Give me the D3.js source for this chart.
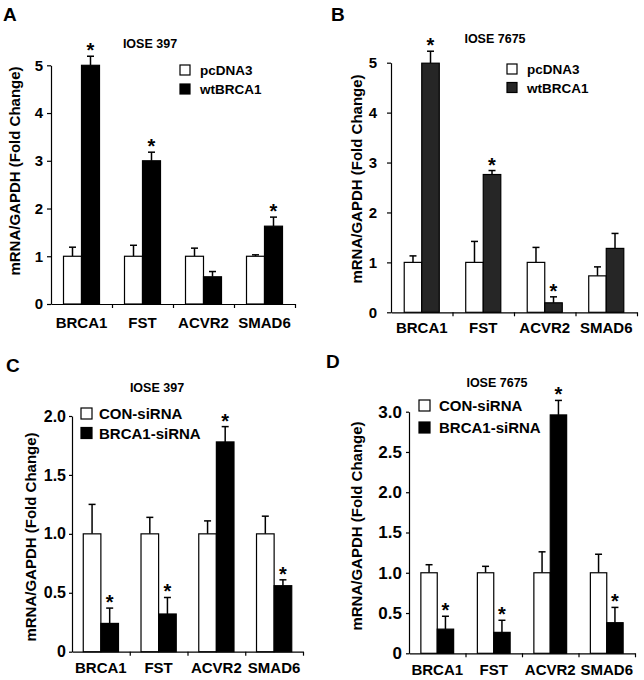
<!DOCTYPE html>
<html><head><meta charset="utf-8">
<script src="https://cdn.jsdelivr.net/npm/d3@7"></script>
<style>
body{margin:0;background:#fff}
svg{display:block}
text{font-family:"Liberation Sans",Arial,sans-serif;font-weight:bold;fill:#000}
</style>
</head><body>
<svg id="c" width="644" height="680"></svg>
<script>
// ---------- data ----------
const categories = ["BRCA1", "FST", "ACVR2", "SMAD6"];

// Panel A: IOSE 397, overexpression
const aCtrl     = [1.00, 1.00, 1.00, 1.00];
const aCtrlErr  = [0.19, 0.23, 0.17, 0.03];
const aTreat    = [5.00, 3.00, 0.57, 1.63];
const aTreatErr = [0.19, 0.18, 0.11, 0.19];
const aSig      = [true, true, false, true];

// Panel B: IOSE 7675, overexpression
const bCtrl     = [1.00, 1.00, 1.00, 0.73];
const bCtrlErr  = [0.13, 0.42, 0.30, 0.18];
const bTreat    = [4.99, 2.76, 0.19, 1.28];
const bTreatErr = [0.24, 0.08, 0.12, 0.30];
const bSig      = [true, true, true, false];

// Panel C: IOSE 397, siRNA
const cCtrl     = [1.00, 1.00, 1.00, 1.00];
const cCtrlErr  = [0.25, 0.14, 0.11, 0.15];
const cTreat    = [0.24, 0.32, 1.78, 0.56];
const cTreatErr = [0.13, 0.14, 0.13, 0.05];
const cSig      = [true, true, true, true];

// Panel D: IOSE 7675, siRNA
const dCtrl     = [1.00, 1.00, 1.00, 1.00];
const dCtrlErr  = [0.10, 0.08, 0.26, 0.23];
const dTreat    = [0.30, 0.26, 2.96, 0.38];
const dTreatErr = [0.16, 0.15, 0.18, 0.19];
const dSig      = [true, true, true, true];

const abTicks = [0, 1, 2, 3, 4, 5];
const cTicks  = [0, 0.5, 1.0, 1.5, 2.0];
const dTicks  = [0, 0.5, 1.0, 1.5, 2.0, 2.5, 3.0];

const overLegend = ["pcDNA3", "wtBRCA1"];
const siLegend   = ["CON-siRNA", "BRCA1-siRNA"];
const yTitle = "mRNA/GAPDH (Fold Change)";

// ---------- drawing ----------
const svg = d3.select("#c");
const fmtInt = d3.format("d");
const fmtDec = d => d === 0 ? "0" : d.toFixed(1);

function panel(cfg) {
  const g = svg.append("g");
  const y = d3.scaleLinear().domain([0, cfg.ymax]).range([cfg.yBase, cfg.yTop]);
  const x = d3.scaleBand().domain(categories).range([cfg.x0, cfg.x1])
    .paddingInner(cfg.pad).paddingOuter(cfg.pad / 2);
  const xs = d3.scaleBand().domain(["ctrl", "treat"]).range([0, x.bandwidth()]);
  const idx = d3.scaleLinear().domain([0, 4]).range([cfg.x0, cfg.x1]);

  // panel letter & title
  g.append("text").attr("x", cfg.letterX).attr("y", cfg.letterY)
    .style("font-size", "19px").text(cfg.letter);
  g.append("text").attr("x", cfg.titleX).attr("y", cfg.titleY)
    .attr("text-anchor", "middle").style("font-size", cfg.titleFont + "px").text(cfg.title);

  // y axis
  const ya = g.append("g").attr("transform", `translate(${cfg.x0},0)`)
    .call(d3.axisLeft(y).tickValues(cfg.ticks).tickFormat(cfg.fmt)
      .tickSize(cfg.tickLen).tickSizeOuter(0).tickPadding(cfg.tickPad));
  ya.selectAll("path,line").attr("stroke", "#000").attr("stroke-width", 1.2);
  ya.selectAll("text").style("font-size", cfg.tickFont + "px")
    .style("font-family", '"Liberation Sans",Arial,sans-serif').style("font-weight", "bold")
    .attr("fill", "#000");

  // x axis (boundary ticks)
  const xa = g.append("g").attr("transform", `translate(0,${cfg.yBase})`)
    .call(d3.axisBottom(idx).tickValues([1, 2, 3, 4]).tickFormat("")
      .tickSize(4).tickSizeOuter(0));
  xa.selectAll("path,line").attr("stroke", "#000").attr("stroke-width", 1.2);

  // x labels
  g.selectAll(".xl").data(categories).join("text")
    .attr("x", d => x(d) + x.bandwidth() / 2).attr("y", cfg.xLabelY)
    .attr("text-anchor", "middle").style("font-size", "15px").text(d => d);

  // y title
  g.append("text").attr("transform", `translate(${cfg.yTitleX},${cfg.yTitleY}) rotate(-90)`)
    .attr("text-anchor", "middle").style("font-size", "15px").text(yTitle);

  const rows = categories.map((c, i) => ({
    c, ctrl: cfg.ctrl[i], ctrlErr: cfg.ctrlErr[i],
    treat: cfg.treat[i], treatErr: cfg.treatErr[i], sig: cfg.sig[i]
  }));

  const series = [
    {key: "ctrl", fill: "#fff", val: d => d.ctrl, err: d => d.ctrlErr},
    {key: "treat", fill: cfg.treatColor, val: d => d.treat, err: d => d.treatErr}
  ];
  const capW = 7;
  series.forEach(s => {
    // error bars (drawn first; upper only)
    rows.forEach(d => {
      const cx = x(d.c) + xs(s.key) + xs.bandwidth() / 2;
      const top = y(s.val(d) + s.err(d));
      g.append("line").attr("x1", cx).attr("x2", cx)
        .attr("y1", y(s.val(d))).attr("y2", top)
        .attr("stroke", "#000").attr("stroke-width", 1.5);
      g.append("line").attr("x1", cx - capW / 2).attr("x2", cx + capW / 2)
        .attr("y1", top).attr("y2", top)
        .attr("stroke", "#000").attr("stroke-width", 1.5);
    });
    g.selectAll(".bar-" + s.key).data(rows).join("rect")
      .attr("x", d => x(d.c) + xs(s.key))
      .attr("y", d => y(s.val(d)))
      .attr("width", xs.bandwidth())
      .attr("height", d => cfg.yBase - y(s.val(d)))
      .attr("fill", s.fill).attr("stroke", "#000").attr("stroke-width", 1.2);
  });

  // significance asterisks
  g.selectAll(".star").data(rows.filter(d => d.sig)).join("text")
    .attr("x", d => x(d.c) + xs("treat") + xs.bandwidth() / 2)
    .attr("y", d => y(d.treat + d.treatErr) + 1)
    .attr("text-anchor", "middle").style("font-size", "20px").text("*");

  // legend
  cfg.legend.forEach((lab, i) => {
    const ly = cfg.legY + i * cfg.legGap;
    g.append("rect").attr("x", cfg.legX).attr("y", ly)
      .attr("width", cfg.boxW).attr("height", cfg.boxH)
      .attr("fill", i === 0 ? "#fff" : cfg.treatColor)
      .attr("stroke", "#000").attr("stroke-width", 1.2);
    g.append("text").attr("x", cfg.legX + cfg.boxW + cfg.legTextGap).attr("y", ly + cfg.boxH)
      .style("font-size", cfg.legFont + "px").text(lab);
  });
}

panel({letter: "A", letterX: 3, letterY: 21, title: "IOSE 397", titleX: 150, titleY: 48, titleFont: 12.5,
  x0: 51, x1: 295, yBase: 304, yTop: 65.3, ymax: 5, ticks: abTicks, fmt: fmtInt,
  tickFont: 15, tickLen: 4, tickPad: 4, pad: 0.41,
  ctrl: aCtrl, ctrlErr: aCtrlErr, treat: aTreat, treatErr: aTreatErr, sig: aSig, treatColor: "#000",
  legend: overLegend, legX: 180, legY: 65, legGap: 19, boxW: 10, boxH: 10, legTextGap: 10, legFont: 13.5,
  yTitleX: 20, yTitleY: 171, xLabelY: 328});

panel({letter: "B", letterX: 331, letterY: 21, title: "IOSE 7675", titleX: 495, titleY: 43, titleFont: 12.5,
  x0: 391, x1: 637, yBase: 312.3, yTop: 62.7, ymax: 5, ticks: abTicks, fmt: fmtInt,
  tickFont: 15, tickLen: 4, tickPad: 10, pad: 0.43,
  ctrl: bCtrl, ctrlErr: bCtrlErr, treat: bTreat, treatErr: bTreatErr, sig: bSig, treatColor: "#262626",
  legend: overLegend, legX: 507, legY: 64, legGap: 18.5, boxW: 10, boxH: 10, legTextGap: 10, legFont: 13.5,
  yTitleX: 362, yTitleY: 179, xLabelY: 333});

panel({letter: "C", letterX: 6, letterY: 372, title: "IOSE 397", titleX: 157, titleY: 392, titleFont: 12.5,
  x0: 72, x1: 303, yBase: 651.7, yTop: 416, ymax: 2, ticks: cTicks, fmt: fmtDec,
  tickFont: 16, tickLen: 3, tickPad: 3, pad: 0.39,
  ctrl: cCtrl, ctrlErr: cCtrlErr, treat: cTreat, treatErr: cTreatErr, sig: cSig, treatColor: "#000",
  legend: siLegend, legX: 81, legY: 408, legGap: 19.5, boxW: 11, boxH: 11, legTextGap: 7, legFont: 15,
  yTitleX: 36, yTitleY: 537, xLabelY: 673});

panel({letter: "D", letterX: 326, letterY: 368, title: "IOSE 7675", titleX: 497, titleY: 387, titleFont: 12.5,
  x0: 409, x1: 635, yBase: 653.3, yTop: 411.7, ymax: 3, ticks: dTicks, fmt: fmtDec,
  tickFont: 17, tickLen: 3, tickPad: 4, pad: 0.42,
  ctrl: dCtrl, ctrlErr: dCtrlErr, treat: dTreat, treatErr: dTreatErr, sig: dSig, treatColor: "#000",
  legend: siLegend, legX: 419, legY: 400, legGap: 22, boxW: 11, boxH: 11, legTextGap: 9, legFont: 15,
  yTitleX: 362, yTitleY: 526, xLabelY: 675});
</script>
</body></html>
